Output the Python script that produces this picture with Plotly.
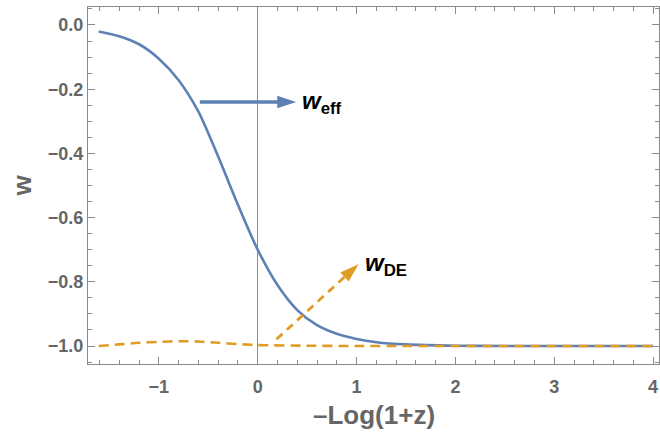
import plotly.graph_objects as go

# w_eff (solid blue)
x_eff = [-1.609, -1.4, -1.2, -1.0, -0.8, -0.6, -0.4, -0.2, 0.0, 0.2, 0.4, 0.6, 0.8, 1.0, 1.2, 1.5, 2.0, 2.5, 3.0, 3.5, 4.0]
w_eff = [-0.02, -0.035, -0.06, -0.105, -0.172, -0.27, -0.41, -0.56, -0.70, -0.81, -0.888, -0.935, -0.962, -0.978, -0.988, -0.995, -0.999, -1.0, -1.0, -1.0, -1.0]

# w_DE (dashed orange)
x_de = [-1.609, -1.4, -1.2, -1.0, -0.8, -0.6, -0.4, -0.2, 0.0, 0.5, 1.0, 1.5, 2.0, 2.5, 3.0, 3.5, 4.0]
w_de = [-1.0, -0.995, -0.99, -0.987, -0.985, -0.986, -0.99, -0.994, -0.997, -0.999, -1.0, -1.0, -1.0, -1.0, -1.0, -1.0, -1.0]

# annotation arrows (data coordinates)
arrow_eff_x = [-0.586, 0.39]
arrow_eff_y = [-0.24, -0.24]
arrow_de_x = [0.19, 1.02]
arrow_de_y = [-0.979, -0.745]
label_eff = "<b><i>w</i><sub>eff</sub></b>"
label_de = "<b><i>w</i><sub>DE</sub></b>"
x_title = "\u2013Log(1+z)"
y_title = "w"

x_ticks = [-1, 0, 1, 2, 3, 4]
y_ticks = [0.0, -0.2, -0.4, -0.6, -0.8, -1.0]

BLUE = "#5E81B5"
ORANGE = "#E19C24"
GRAY = "#8a8a8a"
TXT = "#666666"

fig = go.Figure()
fig.add_trace(go.Scatter(x=x_eff, y=w_eff, mode="lines", line=dict(color=BLUE, width=2.6, shape="spline", smoothing=0.8), hoverinfo="skip"))
fig.add_trace(go.Scatter(x=x_de, y=w_de, mode="lines", line=dict(color=ORANGE, width=2.6, dash="10px,6px", shape="spline", smoothing=0.8), hoverinfo="skip"))

# arrows
fig.add_trace(go.Scatter(x=arrow_eff_x, y=arrow_eff_y, mode="lines+markers",
                         line=dict(color=BLUE, width=3.5),
                         marker=dict(symbol="arrow", angleref="previous", size=[0, 20], color=BLUE, opacity=1, line=dict(width=0)),
                         hoverinfo="skip"))
fig.add_trace(go.Scatter(x=arrow_de_x, y=arrow_de_y, mode="lines+markers",
                         line=dict(color=ORANGE, width=2.8, dash="8px,6px"),
                         marker=dict(symbol="arrow", angleref="previous", size=[0, 20], color=ORANGE, opacity=1, line=dict(width=0)),
                         hoverinfo="skip"))

fig.add_annotation(x=arrow_eff_x[1], y=arrow_eff_y[1], text=label_eff, showarrow=False,
                   xanchor="left", yanchor="middle", xshift=4,
                   font=dict(family="Liberation Sans", size=24, color="black"))
fig.add_annotation(x=arrow_de_x[1], y=arrow_de_y[1], text=label_de, showarrow=False,
                   xanchor="left", yanchor="middle", xshift=4, yshift=0,
                   font=dict(family="Liberation Sans", size=24, color="black"))

# axis titles as annotations
fig.add_annotation(x=0.5, y=0, xref="paper", yref="paper", text=x_title, showarrow=False,
                   xanchor="center", yanchor="top", yshift=-34,
                   font=dict(family="Liberation Sans", size=26, color=TXT, weight="bold"))
fig.add_annotation(x=0, y=0.5, xref="paper", yref="paper", text=y_title, showarrow=False,
                   xanchor="center", yanchor="middle", xshift=-67, textangle=-90,
                   font=dict(family="Liberation Sans", size=26, color=TXT, weight="bold"))

axis_common = dict(
    showline=True, linecolor=GRAY, linewidth=1, mirror="allticks",
    ticks="inside", ticklen=7, tickcolor=GRAY, tickwidth=1,
    showgrid=False, automargin=False, ticklabeloverflow="allow",
    tickfont=dict(family="Liberation Sans", size=18, color=TXT, weight="bold"),
)

fig.update_xaxes(range=[-1.717, 4.06], tickvals=x_ticks, ticktext=[("\u2212" + str(-v)) if v < 0 else str(v) for v in x_ticks],
                 zeroline=True, zerolinecolor=GRAY, zerolinewidth=1,
                 ticklabelstandoff=6,
                 minor=dict(dtick=0.2, tick0=0, ticks="inside", ticklen=4, tickcolor=GRAY),
                 **axis_common)
fig.update_yaxes(range=[-1.056, 0.056], tickvals=y_ticks, tickformat=".1f",
                 zeroline=False,
                 minor=dict(dtick=0.05, tick0=0, ticks="inside", ticklen=4, tickcolor=GRAY),
                 **axis_common)

fig.update_layout(width=660, height=434, margin=dict(l=88, r=1, t=7, b=70),
                  plot_bgcolor="white", paper_bgcolor="white", showlegend=False)

fig.write_html("out.html", config={"displayModeBar": False},
               post_script="document.body.style.margin='0';document.body.style.padding='0';")
